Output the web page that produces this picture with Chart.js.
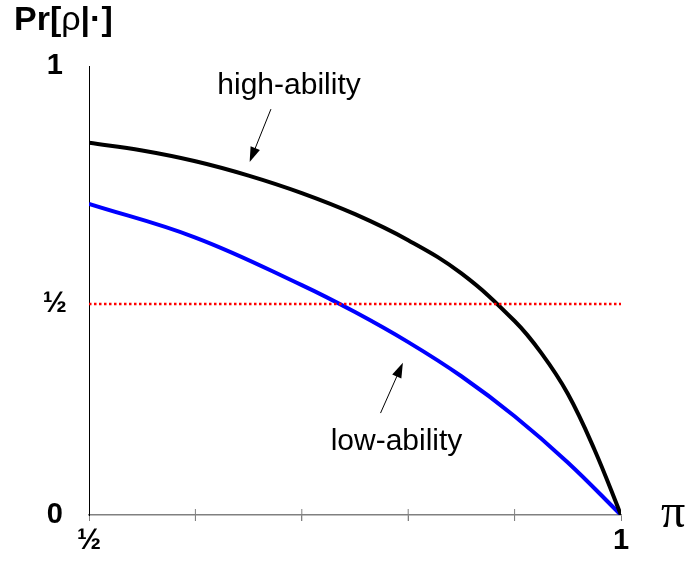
<!DOCTYPE html>
<html>
<head>
<meta charset="utf-8">
<script src="https://cdn.jsdelivr.net/npm/chart.js@4.4.1/dist/chart.umd.min.js"></script>
<style>
  html, body { margin: 0; padding: 0; background: #fff; }
</style>
</head>
<body>
<canvas id="chart" width="690" height="561"></canvas>
<script>
// values
const highX = [0.5, 0.55, 0.6, 0.65, 0.7, 0.75, 0.8, 0.85, 0.9, 0.925, 0.95, 0.975, 1.0];
const highY = [0.829, 0.812, 0.788, 0.756, 0.717, 0.670, 0.612, 0.538, 0.432, 0.361, 0.270, 0.146, 0.0];
const lowX = [0.5, 0.6, 0.7, 0.75, 0.8, 0.85, 0.9, 0.95, 1.0];
const lowY = [0.693, 0.618, 0.512, 0.452, 0.385, 0.309, 0.220, 0.117, 0.0];
const halfX = [0.5, 1.0];
const halfLevel = 0.47;

const xTickVals = [0.5, 0.6, 0.7, 0.8, 0.9, 1.0];
const xTickLabels = ['½', '', '', '', '', '1'];
const yTickVals = [0, halfLevel, 1];
const yTickLabels = ['0', '½', '1'];

// labels with arrows: text position and arrow from -> tip (data coords)
const notes = [
  { text: 'high-ability', x: 0.688, y: 0.938, from: [0.671, 0.904], to: [0.651, 0.786] },
  { text: 'low-ability', x: 0.789, y: 0.145, from: [0.774, 0.227], to: [0.795, 0.339] }
];

const toPts = (xs, ys) => xs.map((x, i) => ({ x: x, y: ys[i] }));

function arrow(ctx, x1, y1, x2, y2) {
  const ang = Math.atan2(y2 - y1, x2 - x1);
  const len = 15, half = 5;
  ctx.beginPath();
  ctx.moveTo(x1, y1);
  ctx.lineTo(x2 - Math.cos(ang) * len * 0.8, y2 - Math.sin(ang) * len * 0.8);
  ctx.stroke();
  ctx.beginPath();
  ctx.moveTo(x2, y2);
  ctx.lineTo(x2 - Math.cos(ang) * len - Math.sin(ang) * half, y2 - Math.sin(ang) * len + Math.cos(ang) * half);
  ctx.lineTo(x2 - Math.cos(ang) * len + Math.sin(ang) * half, y2 - Math.sin(ang) * len - Math.cos(ang) * half);
  ctx.closePath();
  ctx.fill();
}

const textPlugin = {
  id: 'texts',
  afterDraw(chart) {
    const ctx = chart.ctx;
    const xs = chart.scales.x, ys = chart.scales.y;
    ctx.save();
    ctx.fillStyle = '#000';
    ctx.strokeStyle = '#000';
    ctx.lineWidth = 1;

    // axis title Pr[ρ|·]
    ctx.textBaseline = 'alphabetic';
    ctx.textAlign = 'left';
    let x = 14;
    const parts = [['Pr[', 'bold'], ['ρ', 'normal'], ['|·]', 'bold']];
    parts.forEach(p => {
      ctx.font = p[1] + ' 34px "Liberation Sans", Arial, sans-serif';
      ctx.fillText(p[0], x, 30);
      x += ctx.measureText(p[0]).width;
    });

    // pi
    ctx.font = '48px "Liberation Serif", "Times New Roman", serif';
    ctx.fillText('π', 661, 527);

    // annotations
    ctx.font = '30px "Liberation Sans", Arial, sans-serif';
    ctx.textAlign = 'center';
    notes.forEach(n => {
      ctx.fillText(n.text, xs.getPixelForValue(n.x), ys.getPixelForValue(n.y));
      arrow(ctx,
        xs.getPixelForValue(n.from[0]), ys.getPixelForValue(n.from[1]),
        xs.getPixelForValue(n.to[0]), ys.getPixelForValue(n.to[1]));
    });
    ctx.restore();
  }
};

new Chart(document.getElementById('chart'), {
  type: 'line',
  data: {
    datasets: [
      {
        data: toPts(halfX, halfX.map(() => halfLevel)),
        borderColor: '#ff0000', borderWidth: 2.5, borderDash: [2.5, 2.5],
        pointRadius: 0, fill: false
      },
      {
        data: toPts(highX, highY),
        borderColor: '#000000', borderWidth: 4, tension: 0.4,
        pointRadius: 0, fill: false
      },
      {
        data: toPts(lowX, lowY),
        borderColor: '#0000ff', borderWidth: 4, tension: 0.4,
        pointRadius: 0, fill: false
      },
      {
        // upper half of the x tick marks
        data: toPts(xTickVals.slice(1, -1), xTickVals.slice(1, -1).map(() => 0)),
        showLine: false, pointStyle: 'line', rotation: 90, pointRadius: 6,
        borderColor: '#808080', borderWidth: 1, clip: false
      }
    ]
  },
  options: {
    responsive: false,
    animation: false,
    events: [],
    layout: { padding: { top: 66, right: 69, left: 0, bottom: 0 } },
    plugins: { legend: { display: false }, tooltip: { enabled: false } },
    scales: {
      x: {
        type: 'linear', min: 0.5, max: 1,
        afterBuildTicks: s => { s.ticks = xTickVals.map(v => ({ value: v })); },
        afterFit: s => { s.height = 46; },
        ticks: {
          autoSkip: false, maxRotation: 0, padding: 3,
          callback: (v, i) => xTickLabels[i],
          color: '#000',
          font: { family: '"Liberation Sans", Arial, sans-serif', size: 29, weight: 'bold' }
        },
        grid: { drawOnChartArea: false, tickLength: 6, color: '#808080' },
        border: { color: '#808080', width: 1.5 }
      },
      y: {
        type: 'linear', min: 0, max: 1,
        afterBuildTicks: s => { s.ticks = yTickVals.map(v => ({ value: v })); },
        afterFit: s => { s.width = 89; },
        ticks: {
          autoSkip: false, padding: 22, crossAlign: 'center',
          callback: (v, i) => yTickLabels[i],
          color: '#000',
          font: { family: '"Liberation Sans", Arial, sans-serif', size: 29, weight: 'bold' }
        },
        grid: { display: true, drawOnChartArea: false, drawTicks: false },
        border: { color: '#000', width: 1 }
      }
    }
  },
  plugins: [textPlugin]
});
</script>
</body>
</html>
